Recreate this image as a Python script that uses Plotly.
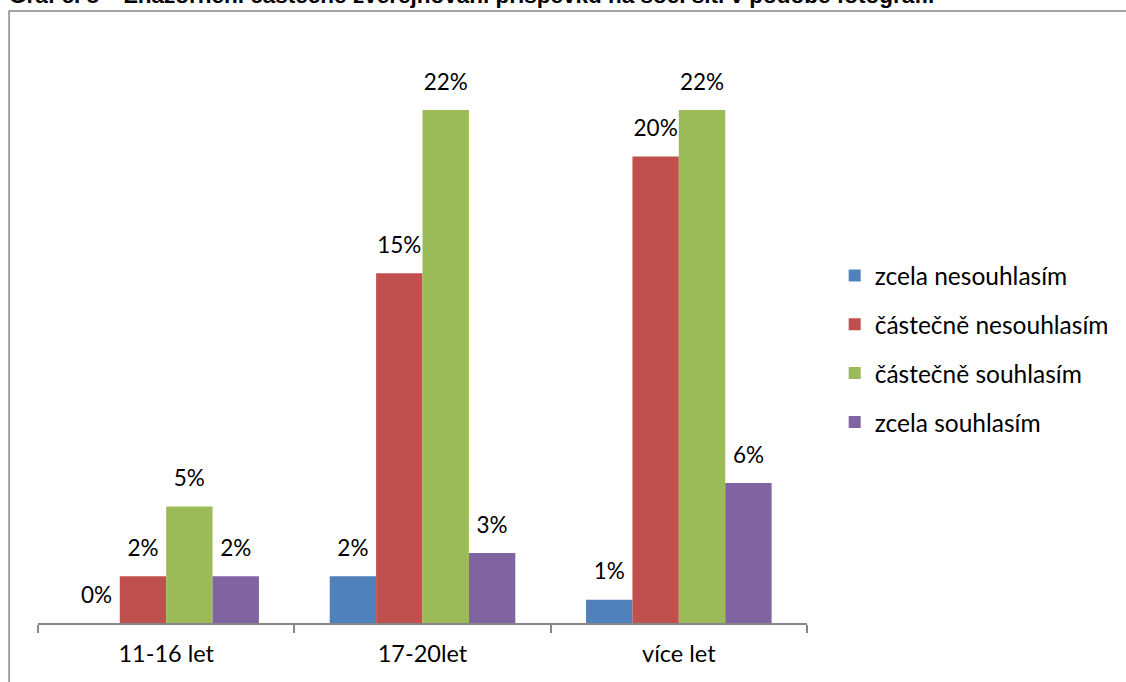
import plotly.graph_objects as go

categories = ["11-16 let", "17-20let", "více let"]
series_names = ["zcela nesouhlasím", "částečně nesouhlasím", "částečně souhlasím", "zcela souhlasím"]
values = [
    [0, 2, 1],
    [2, 15, 20],
    [5, 22, 22],
    [2, 3, 6],
]
colors = ["#4F81BD", "#C0504D", "#9BBB59", "#8064A2"]
title_text = "Graf č. 8 – Znázornění částečně zveřejňování příspěvku na soc. síti v podobě fotografií"

FONT = "Lato"
GAP = 0.276

fig = go.Figure()
for name, vals, col in zip(series_names, values, colors):
    fig.add_trace(go.Bar(x=categories, y=vals, name=name, marker_color=col,
                         marker_line_width=0, legendgroup=name, hoverinfo="skip"))
# percentage labels, grouped like the bars
for name, vals in zip(series_names, values):
    fig.add_trace(go.Scatter(x=categories, y=vals, mode="markers+text",
                             text=[f"{v}%" for v in vals], textposition="top center",
                             marker=dict(size=22, opacity=0), textfont=dict(size=22.5, color="#000"),
                             showlegend=False, cliponaxis=False, hoverinfo="skip"))

fig.update_layout(
    width=1126, height=682,
    margin=dict(l=38, r=317, t=39.5, b=59),
    paper_bgcolor="white", plot_bgcolor="white",
    font=dict(family=FONT, size=23.5, color="#000"),
    barmode="group", bargap=GAP, bargroupgap=0,
    scattermode="group", scattergap=GAP,
    showlegend=True,
    legend=dict(x=1.036, xanchor="left", y=0.47, yanchor="middle",
                tracegroupgap=14, font=dict(size=24.5), bgcolor="rgba(0,0,0,0)"),
    xaxis=dict(showline=True, linecolor="#868686", linewidth=1.5, ticks="outside",
               tickson="boundaries", ticklen=8, tickcolor="#868686", tickwidth=1.5,
               ticklabelstandoff=9, showgrid=False, fixedrange=True),
    yaxis=dict(range=[0, 25], visible=False, showgrid=False, zeroline=False, fixedrange=True),
)

# chart frame
fig.add_shape(type="rect", xref="paper", yref="paper",
              x0=-29 / 771, x1=1.6, y0=-0.2, y1=(623 - 10.5) / 583.5,
              line=dict(color="#888888", width=1.5), fillcolor="rgba(0,0,0,0)", layer="below")

fig.add_annotation(text="<b>" + title_text + "</b>", xref="paper", yref="paper",
                   x=-31 / 771, xanchor="left", y=(623 + 5) / 583.5, yanchor="middle",
                   showarrow=False, font=dict(family="Liberation Sans", size=22.5, color="#000"))

fig.write_html("out.html", config={"displayModeBar": False},
               post_script="document.body.style.margin='0';")
